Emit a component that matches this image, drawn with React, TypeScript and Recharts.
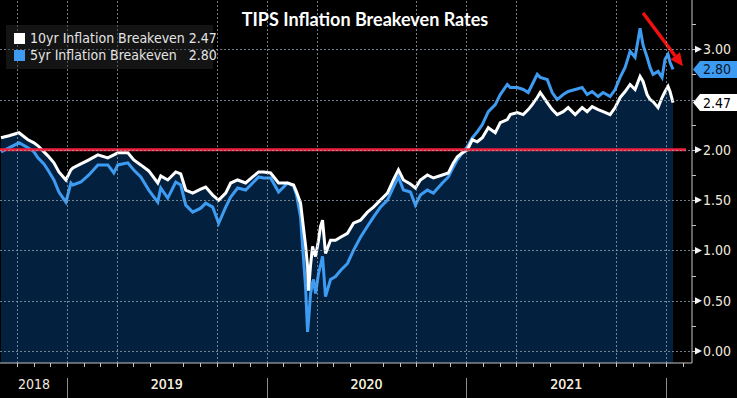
import React from "react";
import {
  ComposedChart,
  Area,
  Line,
  XAxis,
  YAxis,
  ReferenceLine,
  ReferenceDot,
} from "recharts";

// decimal-year dates of the samples
const dates = [
  2018.67, 2018.71, 2018.76, 2018.805, 2018.835, 2018.855, 2018.885, 2018.905, 2018.935, 2018.96,
  2018.995, 2019.02, 2019.03, 2019.07, 2019.11, 2019.155, 2019.205, 2019.235, 2019.255, 2019.305,
  2019.335, 2019.37, 2019.41, 2019.455, 2019.47, 2019.505, 2019.545, 2019.57, 2019.595, 2019.63,
  2019.67, 2019.695, 2019.73, 2019.76, 2019.795, 2019.82, 2019.855, 2019.895, 2019.93, 2019.96,
  2019.985, 2020.02, 2020.06, 2020.105, 2020.135, 2020.15, 2020.17, 2020.18, 2020.195, 2020.205,
  2020.21, 2020.22, 2020.23, 2020.235, 2020.245, 2020.26, 2020.27, 2020.28, 2020.295, 2020.32,
  2020.345, 2020.37, 2020.405, 2020.435, 2020.47, 2020.505, 2020.535, 2020.57, 2020.605, 2020.635,
  2020.66, 2020.685, 2020.72, 2020.745, 2020.77, 2020.805, 2020.835, 2020.88, 2020.91, 2020.935,
  2020.955, 2020.98, 2021.005, 2021.03, 2021.055, 2021.08, 2021.11, 2021.145, 2021.17, 2021.205,
  2021.22, 2021.255, 2021.285, 2021.31, 2021.33, 2021.355, 2021.37, 2021.405, 2021.43, 2021.455,
  2021.485, 2021.51, 2021.545, 2021.58, 2021.605, 2021.63, 2021.66, 2021.685, 2021.72, 2021.745,
  2021.77, 2021.795, 2021.82, 2021.845, 2021.87, 2021.885, 2021.905, 2021.92, 2021.935, 2021.96,
  2021.98, 2021.995, 2022.01, 2022.02, 2022.035,
];

const tenYear = [
  2.12, 2.14, 2.17, 2.1, 2.07, 2.04, 1.98, 1.94, 1.87, 1.78,
  1.7, 1.8, 1.82, 1.86, 1.9, 1.95, 1.92, 1.95, 1.97, 1.97,
  1.9, 1.85, 1.79, 1.67, 1.74, 1.7, 1.78, 1.76, 1.6, 1.57,
  1.61, 1.63, 1.55, 1.5, 1.57, 1.67, 1.7, 1.67, 1.73, 1.78,
  1.78, 1.77, 1.67, 1.67, 1.65, 1.58, 1.47, 1.3, 1.05, 0.84,
  0.6, 0.85, 1.04, 1.0, 0.94, 1.1, 1.24, 1.3, 0.97, 1.1,
  1.1, 1.13, 1.17, 1.27, 1.3, 1.38, 1.43, 1.5, 1.57, 1.7,
  1.8, 1.7, 1.66, 1.62, 1.7, 1.75, 1.72, 1.75, 1.77, 1.87,
  1.93, 1.97, 2.0, 2.1, 2.08, 2.12, 2.22, 2.17, 2.27, 2.3,
  2.35, 2.37, 2.35, 2.4, 2.45, 2.52, 2.57, 2.47, 2.4, 2.35,
  2.38, 2.42, 2.35, 2.42, 2.38, 2.43, 2.4, 2.38, 2.35, 2.42,
  2.52, 2.58, 2.65, 2.6, 2.73, 2.68, 2.55, 2.5, 2.48, 2.42,
  2.52, 2.58, 2.63, 2.58, 2.47,
];

const fiveYear = [
  1.98, 2.02, 2.07, 2.02, 1.98, 1.92, 1.86, 1.8, 1.7, 1.58,
  1.48, 1.67, 1.65, 1.68, 1.75, 1.85, 1.85, 1.77, 1.85, 1.87,
  1.8, 1.73, 1.6, 1.48, 1.62, 1.52, 1.68, 1.65, 1.45, 1.38,
  1.42, 1.47, 1.43, 1.27, 1.43, 1.53, 1.62, 1.6, 1.67, 1.73,
  1.72, 1.72, 1.58, 1.67, 1.64, 1.55, 1.33, 1.04, 0.64, 0.19,
  0.3, 0.57, 0.68, 0.71, 0.57, 0.77, 0.85, 0.94, 0.54, 0.71,
  0.74, 0.8, 0.87, 1.0, 1.13, 1.24, 1.33, 1.43, 1.5, 1.63,
  1.73, 1.6, 1.58, 1.45, 1.55, 1.6, 1.57, 1.67, 1.73, 1.83,
  1.9, 1.97, 2.03, 2.12, 2.18, 2.25, 2.38, 2.45, 2.55, 2.65,
  2.62, 2.62, 2.6, 2.57, 2.65, 2.75, 2.72, 2.7, 2.57, 2.5,
  2.55, 2.58, 2.6, 2.62, 2.55, 2.58, 2.53, 2.57, 2.53, 2.6,
  2.72, 2.82, 2.98, 2.92, 3.21, 3.04, 2.92, 2.82, 2.75, 2.78,
  2.72, 2.9, 2.95, 2.87, 2.8,
];

const yearLabels = ["2018", "2019", "2020", "2021"];
const yearLabelPos = [2018.835, 2019.5, 2020.5, 2021.5];
const yearStarts = [2019, 2020, 2021, 2022];
const monthTicks = Array.from({ length: 41 }, (_, i) => 2018 + (9 + i) / 12);
const yTicks = Array.from({ length: 14 }, (_, i) => i * 0.25);
const xDomain = [2018.665, 2022.13];
const yDomain = [-0.12, 3.49];
const threshold = 2;
const arrowFrom = { t: 2021.885, v: 3.36 };
const arrowTo = { t: 2022.085, v: 2.83 };

const data = dates.map((t, i) => ({ t, tenYear: tenYear[i], fiveYear: fiveYear[i] }));
const last = data[data.length - 1];

const AXIS = "#c4c4c4";
const TEXT = "#efe9df";
const BLUE = "#3d9cf2";
const RED = "#f0203c";
const GRID = "rgba(150,165,180,0.75)";
const FONT = "'Liberation Sans Narrow', 'DejaVu Sans Condensed', Roboto, sans-serif";

const near = (a: number, b: number) => Math.abs(a - b) < 1e-6;
const crisp = (v: number) => Math.round(v) + 0.5;

// bottom axis: monthly ticks, quarterly dotted grid, year dividers and labels
function XTick(props: any) {
  const { x, y, payload } = props;
  const v = payload.value;
  const li = yearLabelPos.findIndex((p) => near(p, v));
  if (li >= 0) {
    return (
      <text x={x} y={y + 26} textAnchor="middle" fill={TEXT} fontSize={14} fontFamily={FONT}>
        {yearLabels[li]}
      </text>
    );
  }
  const month = Math.round((v - Math.floor(v + 1e-6)) * 12);
  const isYear = yearStarts.some((s) => near(s, v));
  const cx = crisp(x);
  return (
    <g shapeRendering="crispEdges">
      {month % 3 === 0 && <line x1={cx} x2={cx} y1={y} y2={0} stroke={GRID} strokeDasharray="2 2" />}
      <line x1={cx} x2={cx} y1={y} y2={y + 4} stroke={AXIS} />
      {isYear && <line x1={cx} x2={cx} y1={y + 15} y2={y + 35} stroke="#8c8c8c" />}
    </g>
  );
}

// right axis: minor ticks every 0.25, labelled majors with dotted grid
function YTick(props: any) {
  const { x, y, payload } = props;
  const v = payload.value;
  const major = Math.abs(v * 2 - Math.round(v * 2)) < 1e-6;
  const hidden = [last.tenYear, last.fiveYear].some((l) => Math.abs(l - v) < 0.12);
  const cy = crisp(y);
  if (!major) return <line x1={x} x2={x + 4} y1={cy} y2={cy} stroke={AXIS} shapeRendering="crispEdges" />;
  return (
    <g>
      <line x1={0} x2={x} y1={cy} y2={cy} stroke={GRID} strokeDasharray="2 2" shapeRendering="crispEdges" />
      <line x1={x} x2={x + 4} y1={cy} y2={cy} stroke={AXIS} shapeRendering="crispEdges" />
      {!hidden && (
        <>
          <polygon points={`${x + 3},${y - 3.5} ${x + 10},${y} ${x + 3},${y + 3.5}`} fill="#f4f4f4" />
          <text x={x + 11} y={y + 5} fill={TEXT} fontSize={14} fontFamily={FONT}>
            {v.toFixed(2)}
          </text>
        </>
      )}
    </g>
  );
}

function tagShape(bg: string, fg: string, label: string) {
  return (props: any) => {
    const { cx, cy } = props;
    const x0 = cx + 20;
    return (
      <g>
        <polygon
          points={`${x0},${cy} ${x0 + 7},${cy - 8.5} ${x0 + 48},${cy - 8.5} ${x0 + 48},${cy + 8.5} ${x0 + 7},${cy + 8.5}`}
          fill={bg}
        />
        <text x={x0 + 10} y={cy + 5} fill={fg} fontSize={14} fontFamily={FONT}>
          {label}
        </text>
      </g>
    );
  };
}

function ArrowShape(props: any) {
  const { x1, y1, x2, y2 } = props;
  const ang = Math.atan2(y2 - y1, x2 - x1);
  const len = 13;
  const w = 6;
  const bx = x2 - len * Math.cos(ang);
  const by = y2 - len * Math.sin(ang);
  const px = -Math.sin(ang) * w;
  const py = Math.cos(ang) * w;
  return (
    <g>
      <line x1={x1} y1={y1} x2={bx} y2={by} stroke="#f01010" strokeWidth={3.5} />
      <polygon points={`${x2},${y2} ${bx + px},${by + py} ${bx - px},${by - py}`} fill="#f01010" />
    </g>
  );
}

export default function App() {
  return (
    <div
      style={{
        position: "absolute",
        left: 0,
        top: 0,
        width: 737,
        height: 398,
        background: "#000",
        overflow: "hidden",
      }}
    >
      <ComposedChart width={737} height={398} data={data} margin={{ top: 0, right: 0, bottom: 0, left: 0 }}>
        <XAxis
          dataKey="t"
          type="number"
          domain={xDomain}
          allowDataOverflow
          ticks={[...monthTicks, ...yearLabelPos]}
          interval={0}
          tick={<XTick />}
          tickLine={false}
          tickSize={0}
          tickMargin={0}
          height={35}
          axisLine={{ stroke: AXIS }}
        />
        <YAxis
          orientation="right"
          type="number"
          domain={yDomain}
          allowDataOverflow
          ticks={yTicks}
          interval={0}
          tick={<YTick />}
          tickLine={false}
          tickSize={0}
          tickMargin={0}
          width={45}
          axisLine={{ stroke: AXIS }}
        />
        <Area
          dataKey="tenYear"
          type="linear"
          stroke="none"
          fill="#08509a"
          fillOpacity={0.4}
          baseValue="dataMin"
          dot={false}
          activeDot={false}
          isAnimationActive={false}
        />
        <Line
          dataKey="fiveYear"
          type="linear"
          stroke={BLUE}
          strokeWidth={3}
          dot={false}
          activeDot={false}
          isAnimationActive={false}
        />
        <Line
          dataKey="tenYear"
          type="linear"
          stroke="#ffffff"
          strokeWidth={3}
          dot={false}
          activeDot={false}
          isAnimationActive={false}
        />
        <ReferenceLine
          segment={[
            { x: xDomain[0], y: threshold },
            { x: 2022.1, y: threshold },
          ]}
          stroke={RED}
          strokeWidth={3}
          ifOverflow="visible"
        />
        <ReferenceLine
          segment={[
            { x: arrowFrom.t, y: arrowFrom.v },
            { x: arrowTo.t, y: arrowTo.v },
          ]}
          shape={ArrowShape}
          ifOverflow="visible"
        />
        <ReferenceDot
          x={last.t}
          y={last.fiveYear}
          r={0}
          ifOverflow="visible"
          shape={tagShape(BLUE, "#0b1626", last.fiveYear.toFixed(2))}
        />
        <ReferenceDot
          x={last.t}
          y={last.tenYear}
          r={0}
          ifOverflow="visible"
          shape={tagShape("#ffffff", "#000000", last.tenYear.toFixed(2))}
        />
      </ComposedChart>

      <div
        style={{
          position: "absolute",
          left: 0,
          width: 730,
          top: 8,
          textAlign: "center",
          color: "#fff",
          fontFamily: "Lato, 'Open Sans', sans-serif",
          fontWeight: 700,
          fontSize: 18,
          lineHeight: "22px",
        }}
      >
        TIPS Inflation Breakeven Rates
      </div>

      <div
        style={{
          position: "absolute",
          left: 6,
          top: 25,
          width: 207,
          height: 44,
          background: "rgba(45,45,45,0.45)",
          fontFamily: FONT,
          fontSize: 14,
          color: "#e4e4e4",
          lineHeight: "17px",
        }}
      >
        <div style={{ position: "absolute", left: 8, top: 8, width: 11, height: 11, background: "#fff" }} />
        <div style={{ position: "absolute", left: 24, top: 5, whiteSpace: "pre" }}>
          10yr Inflation Breakeven 2.47
        </div>
        <div style={{ position: "absolute", left: 8, top: 25, width: 11, height: 11, background: BLUE }} />
        <div style={{ position: "absolute", left: 24, top: 22, whiteSpace: "pre" }}>
          5yr Inflation Breakeven   2.80
        </div>
      </div>
    </div>
  );
}
